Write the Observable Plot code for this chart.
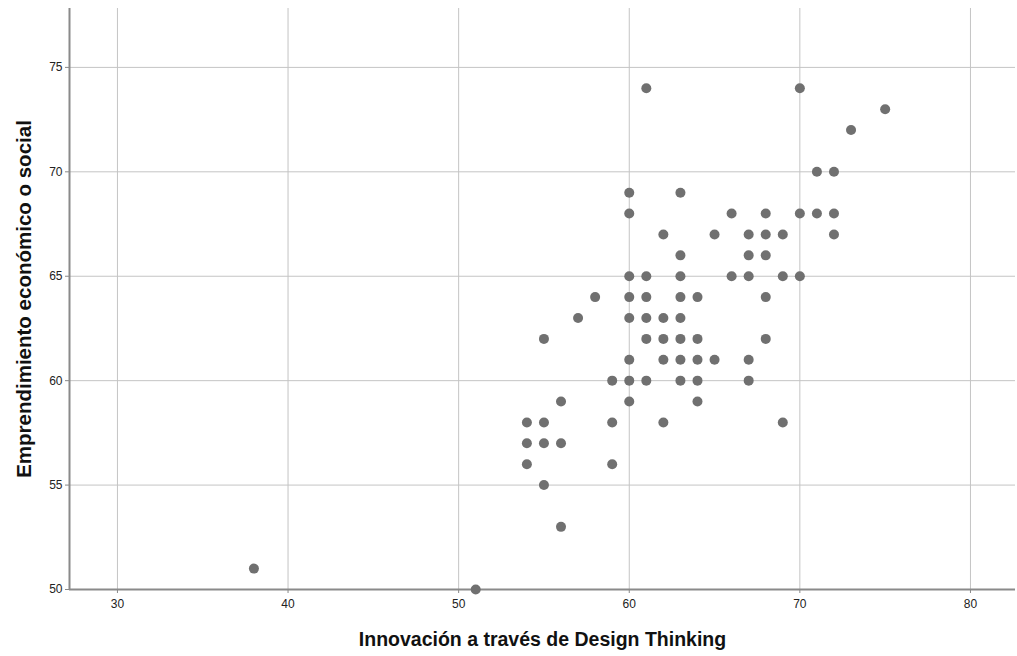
<!DOCTYPE html>
<html>
<head>
<meta charset="utf-8">
<script src="https://cdn.jsdelivr.net/npm/d3@7"></script>
<script src="https://cdn.jsdelivr.net/npm/@observablehq/plot@0.6"></script>
<style>
  html, body { margin: 0; padding: 0; background: #fff; }
</style>
</head>
<body>
<div id="chart"></div>
<script>
// Innovación a través de Design Thinking (x) and Emprendimiento económico o social (y)
const innovacion = [
  38, 51,
  54, 54, 54,
  55, 55, 55, 55,
  56, 56, 56,
  57, 58,
  59, 59, 59,
  60, 60, 60, 60, 60, 60, 60, 60,
  61, 61, 61, 61, 61, 61,
  62, 62, 62, 62, 62,
  63, 63, 63, 63, 63, 63, 63, 63,
  64, 64, 64, 64, 64,
  65, 65,
  66, 66,
  67, 67, 67, 67, 67,
  68, 68, 68, 68, 68,
  69, 69, 69,
  70, 70, 70,
  71, 71,
  72, 72, 72,
  73, 75
];
const emprendimiento = [
  51, 50,
  58, 57, 56,
  62, 58, 57, 55,
  59, 57, 53,
  63, 64,
  60, 58, 56,
  69, 68, 65, 64, 63, 61, 60, 59,
  74, 65, 64, 63, 62, 60,
  67, 63, 62, 61, 58,
  69, 66, 65, 64, 63, 62, 61, 60,
  64, 62, 61, 60, 59,
  67, 61,
  68, 65,
  67, 66, 65, 61, 60,
  68, 67, 66, 64, 62,
  67, 65, 58,
  74, 68, 65,
  70, 68,
  70, 68, 67,
  72, 73
];
const xTicks = [30, 40, 50, 60, 70, 80];
const yTicks = [50, 55, 60, 65, 70, 75];
const xDomain = [27.19, 82.64];
const yDomain = [50, 77.82];
const xTitle = "Innovación a través de Design Thinking";
const yTitle = "Emprendimiento económico o social";

const data = innovacion.map((x, i) => ({x, y: emprendimiento[i]}));

const font = "'Liberation Sans', Arial, sans-serif";

const chart = Plot.plot({
  width: 1017,
  height: 656,
  marginLeft: 69,
  marginRight: 2,
  marginTop: 8,
  marginBottom: 67,
  style: {fontFamily: font, fontSize: "12px", color: "#222", background: "#fff"},
  x: {domain: xDomain, ticks: xTicks},
  y: {domain: yDomain, ticks: yTicks},
  marks: [
    Plot.gridX(xTicks, {stroke: "#c4c4c4", strokeOpacity: 1, strokeWidth: 1}),
    Plot.gridY(yTicks, {stroke: "#c4c4c4", strokeOpacity: 1, strokeWidth: 1}),
    Plot.axisX(xTicks, {label: null, tickSize: 4, tickPadding: 6, stroke: "#888", fill: "#222", fontSize: 12}),
    Plot.axisY(yTicks, {label: null, tickSize: 4, tickPadding: 3, stroke: "#888", fill: "#222", fontSize: 12}),
    Plot.ruleX([xDomain[0]], {stroke: "#8a8a8a", strokeWidth: 2}),
    Plot.ruleY([yDomain[0]], {stroke: "#8a8a8a", strokeWidth: 2}),
    Plot.dot(data, {x: "x", y: "y", r: 5, fill: "#707070", stroke: null}),
    Plot.text([xTitle], {frameAnchor: "bottom", dy: 56, text: d => d, textAnchor: "middle", fontSize: 19.5, fontWeight: "bold", fill: "#111", fontFamily: font}),
    Plot.text([yTitle], {frameAnchor: "left", dx: -45, rotate: -90, text: d => d, textAnchor: "middle", fontSize: 20.5, fontWeight: "bold", fill: "#111", fontFamily: font})
  ]
});
document.getElementById("chart").appendChild(chart);
</script>
</body>
</html>
